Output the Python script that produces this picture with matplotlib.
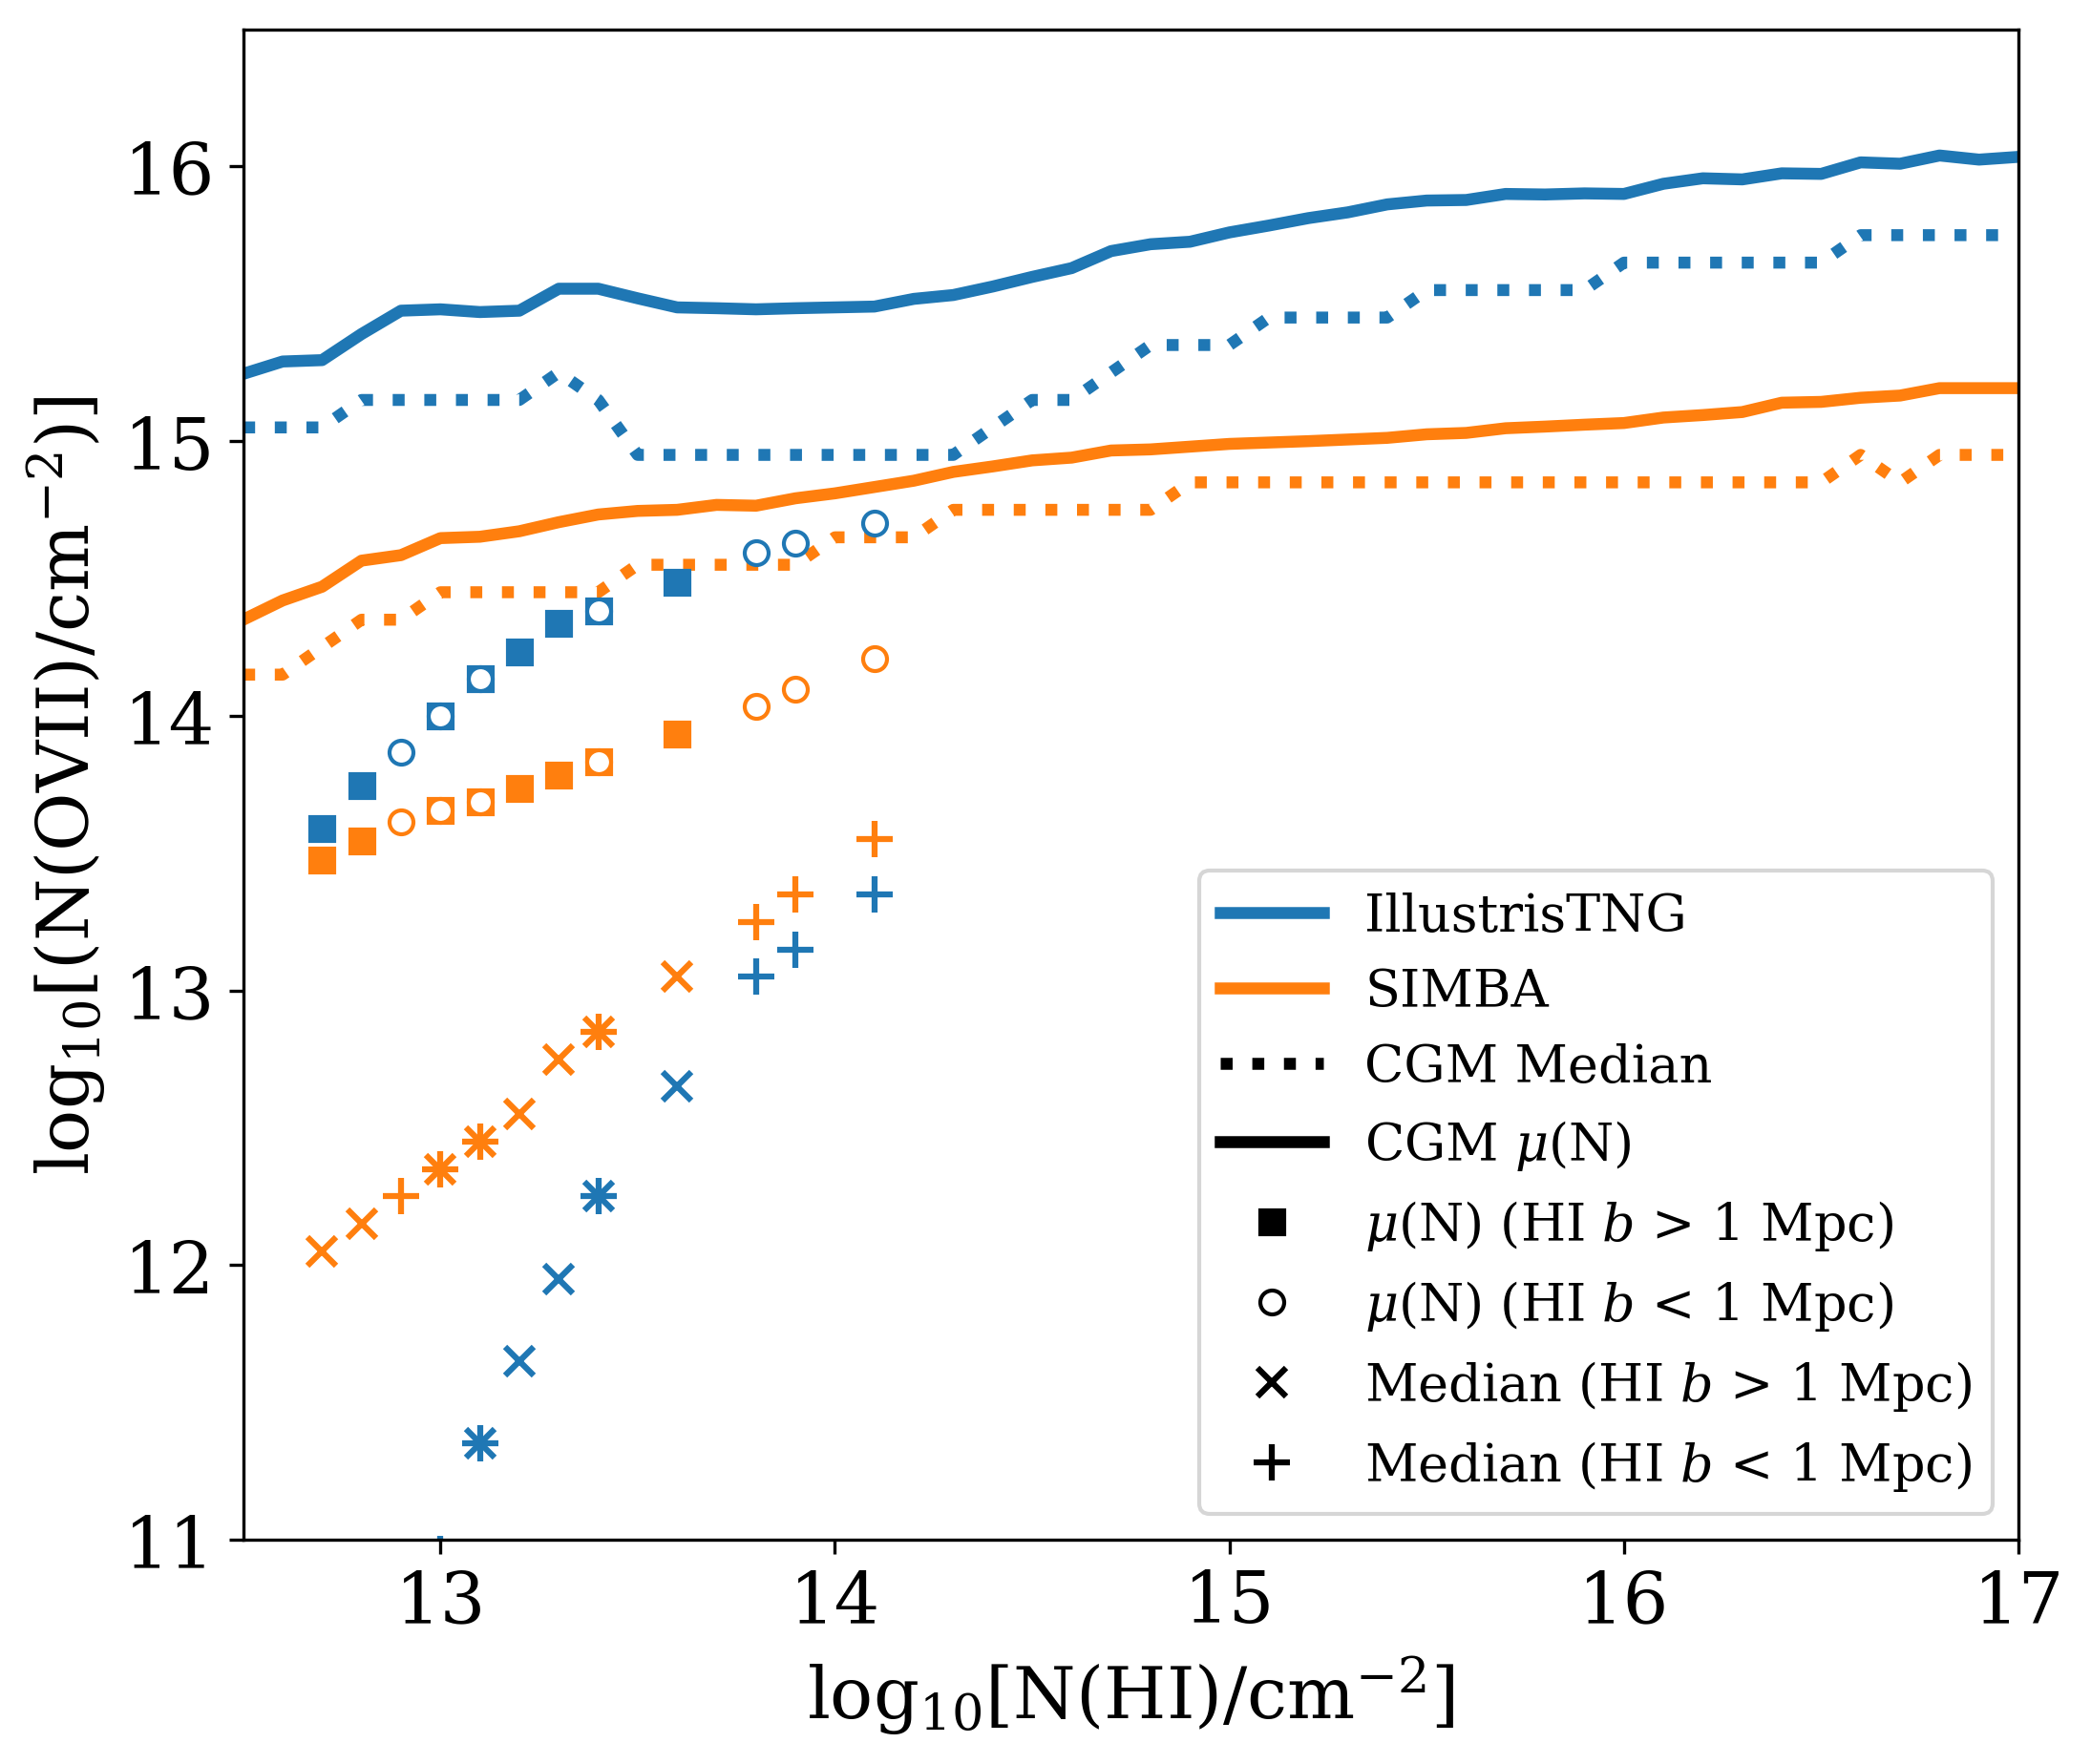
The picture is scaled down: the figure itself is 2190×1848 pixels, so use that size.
import matplotlib
matplotlib.use('Agg')
import matplotlib.pyplot as plt
from matplotlib.lines import Line2D

plt.rcParams['font.family'] = 'DejaVu Serif'
plt.rcParams['mathtext.fontset'] = 'dejavuserif'

BLUE = '#1f77b4'
ORANGE = '#ff7f0e'

# CGM curves, sampled on a log N(HI) grid
nhi_grid = [12.5, 12.6, 12.7, 12.8, 12.9, 13.0, 13.1, 13.2, 13.3, 13.4,
            13.5, 13.6, 13.7, 13.8, 13.9, 14.0, 14.1, 14.2, 14.3, 14.4,
            14.5, 14.6, 14.7, 14.8, 14.9, 15.0, 15.1, 15.2, 15.3, 15.4,
            15.5, 15.6, 15.7, 15.8, 15.9, 16.0, 16.1, 16.2, 16.3, 16.4,
            16.5, 16.6, 16.7, 16.8, 16.9, 17.0]

tng_mean = [15.245, 15.29, 15.295, 15.39, 15.475, 15.48, 15.47, 15.475, 15.555, 15.555,
            15.52, 15.487, 15.484, 15.48, 15.484, 15.487, 15.49, 15.518, 15.532, 15.563,
            15.598, 15.63, 15.692, 15.717, 15.726, 15.76, 15.785, 15.812, 15.833, 15.862,
            15.876, 15.878, 15.9, 15.898, 15.902, 15.9, 15.937, 15.957, 15.953, 15.975,
            15.973, 16.015, 16.01, 16.04, 16.025, 16.035]
tng_median = [15.05, 15.05, 15.05, 15.15, 15.15, 15.15, 15.15, 15.15, 15.25, 15.15,
              14.95, 14.95, 14.95, 14.95, 14.95, 14.95, 14.95, 14.95, 14.95, 15.05,
              15.15, 15.15, 15.25, 15.35, 15.35, 15.35, 15.45, 15.45, 15.45, 15.45,
              15.55, 15.55, 15.55, 15.55, 15.55, 15.65, 15.65, 15.65, 15.65, 15.65,
              15.65, 15.75, 15.75, 15.75, 15.75, 15.75]
simba_mean = [14.35, 14.42, 14.47, 14.565, 14.585, 14.647, 14.652, 14.672, 14.705, 14.733,
              14.746, 14.75, 14.768, 14.765, 14.792, 14.81, 14.833, 14.856, 14.888, 14.908,
              14.93, 14.94, 14.966, 14.97, 14.98, 14.99, 14.995, 15.0, 15.006, 15.012,
              15.025, 15.03, 15.047, 15.053, 15.06, 15.066, 15.086, 15.095, 15.106, 15.14,
              15.143, 15.158, 15.166, 15.193, 15.193, 15.193]
simba_median = [14.15, 14.15, 14.25, 14.35, 14.35, 14.45, 14.45, 14.45, 14.45, 14.45,
                14.55, 14.55, 14.55, 14.55, 14.55, 14.65, 14.65, 14.65, 14.75, 14.75,
                14.75, 14.75, 14.75, 14.75, 14.85, 14.85, 14.85, 14.85, 14.85, 14.85,
                14.85, 14.85, 14.85, 14.85, 14.85, 14.85, 14.85, 14.85, 14.85, 14.85,
                14.85, 14.95, 14.85, 14.95, 14.95, 14.95]

# HI absorbers: mean (squares / circles) and median (x / +)
tng_far_x = [12.7, 12.8, 13.0, 13.1, 13.2, 13.3, 13.4, 13.6]
tng_far_mean = [13.59, 13.745, 14.0, 14.134, 14.233, 14.337, 14.382, 14.487]
tng_near_x = [12.9, 13.0, 13.1, 13.4, 13.8, 13.9, 14.1]
tng_near_mean = [13.869, 14.0, 14.134, 14.382, 14.595, 14.63, 14.703]
tng_far_med_x = [13.1, 13.2, 13.3, 13.4, 13.6]
tng_far_med = [11.35, 11.65, 11.95, 12.25, 12.65]
tng_near_med_x = [13.0, 13.1, 13.4, 13.8, 13.9, 14.1]
tng_near_med = [10.95, 11.35, 12.25, 13.05, 13.15, 13.35]

simba_far_x = [12.7, 12.8, 13.0, 13.1, 13.2, 13.3, 13.4, 13.6]
simba_far_mean = [13.474, 13.545, 13.654, 13.688, 13.734, 13.785, 13.832, 13.932]
simba_near_x = [12.9, 13.0, 13.1, 13.4, 13.8, 13.9, 14.1]
simba_near_mean = [13.613, 13.654, 13.688, 13.832, 14.036, 14.096, 14.207]
simba_far_med_x = [12.7, 12.8, 13.0, 13.1, 13.2, 13.3, 13.4, 13.6]
simba_far_med = [12.05, 12.15, 12.35, 12.45, 12.55, 12.75, 12.85, 13.05]
simba_near_med_x = [12.9, 13.0, 13.1, 13.4, 13.8, 13.9, 14.1]
simba_near_med = [12.25, 12.35, 12.45, 12.85, 13.25, 13.35, 13.55]

fig = plt.figure(figsize=(7.3, 6.163), dpi=300)
ax = fig.add_axes([0.1163, 0.127, 0.849, 0.856])

ax.plot(nhi_grid, tng_mean, color=BLUE, lw=3)
ax.plot(nhi_grid, tng_median, color=BLUE, lw=3, ls=':')
ax.plot(nhi_grid, simba_mean, color=ORANGE, lw=3)
ax.plot(nhi_grid, simba_median, color=ORANGE, lw=3, ls=':')

sims = [
    (BLUE, tng_far_x, tng_far_mean, tng_near_x, tng_near_mean,
     tng_far_med_x, tng_far_med, tng_near_med_x, tng_near_med),
    (ORANGE, simba_far_x, simba_far_mean, simba_near_x, simba_near_mean,
     simba_far_med_x, simba_far_med, simba_near_med_x, simba_near_med),
]
for c, fx, fm, nx, nm, fmx, fmd, nmx, nmd in sims:
    ax.plot(fx, fm, ls='none', marker='s', ms=6, color=c)
    ax.plot(nx, nm, ls='none', marker='o', ms=6, mfc='white', mec=c, mew=1.0)
    ax.plot(fmx, fmd, ls='none', marker='x', ms=7, mew=1.5, color=c)
    ax.plot(nmx, nmd, ls='none', marker='+', ms=9, mew=1.5, color=c)

ax.set_xlim(12.5, 17)
ax.set_ylim(11, 16.5)
ax.set_xticks([13, 14, 15, 16, 17])
ax.set_yticks([11, 12, 13, 14, 15, 16])
ax.tick_params(labelsize=18)
ax.set_xlabel(r'log$_{10}$[N(HI)/cm$^{-2}$]', fontsize=18)
ax.set_ylabel(r'log$_{10}$[(N(OVII)/cm$^{-2}$)]', fontsize=18)

handles = [
    Line2D([], [], color=BLUE, lw=3),
    Line2D([], [], color=ORANGE, lw=3),
    Line2D([], [], color='k', lw=3, ls=':'),
    Line2D([], [], color='k', lw=3),
    Line2D([], [], ls='none', marker='s', ms=6, color='k'),
    Line2D([], [], ls='none', marker='o', ms=6, mfc='white', mec='k'),
    Line2D([], [], ls='none', marker='x', ms=7, mew=1.5, color='k'),
    Line2D([], [], ls='none', marker='+', ms=9, mew=1.5, color='k'),
]
labels = [
    'IllustrisTNG',
    'SIMBA',
    'CGM Median',
    r'CGM $\mu$(N)',
    r'$\mu$(N) (HI $b$ > 1 Mpc)',
    r'$\mu$(N) (HI $b$ < 1 Mpc)',
    r'Median (HI $b$ > 1 Mpc)',
    r'Median (HI $b$ < 1 Mpc)',
]
ax.legend(handles, labels, loc='lower right', fontsize=13)

fig.savefig('out.png', dpi=300)
plt.close(fig)
